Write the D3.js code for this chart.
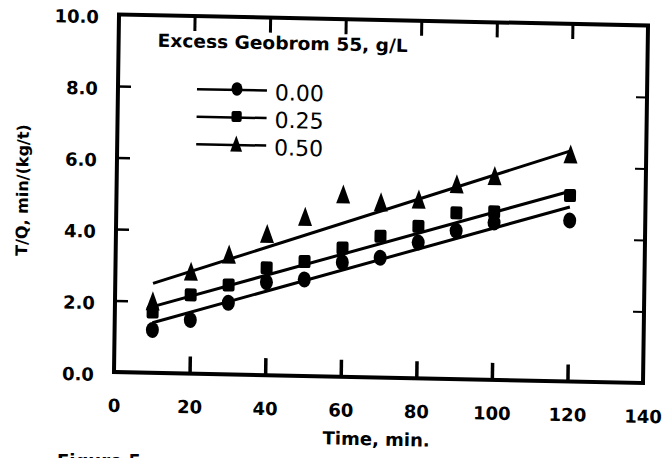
<!DOCTYPE html>
<html>
<head>
<meta charset="utf-8">
<script src="https://cdn.jsdelivr.net/npm/d3@7"></script>
<style>
body { margin: 0; background: #fff; }
svg { display: block; }
</style>
</head>
<body>
<svg width="667" height="458"></svg>
<script>
(function() {

// values
var times = [10, 20, 30, 40, 50, 60, 70, 80, 90, 100, 120];
var geobrom = ["0.00", "0.25", "0.50"];
var ratio000 = [1.2, 1.5, 2.0, 2.6, 2.7, 3.2, 3.35, 3.8, 4.15, 4.4, 4.5];
var ratio025 = [1.7, 2.2, 2.5, 3.0, 3.2, 3.6, 3.95, 4.25, 4.65, 4.7, 5.2];
var ratio050 = [2.0, 2.85, 3.35, 3.95, 4.45, 5.1, 4.9, 5.0, 5.45, 5.7, 6.35];
// fitted straight lines, value at start and end time
var fitTimes = [10, 120];
var fit000 = [1.4, 4.88];
var fit025 = [1.85, 5.32];
var fit050 = [2.5, 6.45];
var xTicks = [0, 20, 40, 60, 80, 100, 120, 140];
var yTicks = [0, 2, 4, 6, 8, 10];

var series = [
    {name: geobrom[0], values: ratio000, fit: fit000, shape: "circle"},
    {name: geobrom[1], values: ratio025, fit: fit025, shape: "square"},
    {name: geobrom[2], values: ratio050, fit: fit050, shape: "triangle"}
];

var svg = d3.select("svg");
var font = "'DejaVu Sans', Arial, sans-serif";

var x = d3.scaleLinear().domain([0, 140]).range([114, 643]);
var y = d3.scaleLinear().domain([0, 10]).range([372, 14.5]);

// the scan is a little skewed, so the whole figure is too
var chart = svg.append("g")
    .attr("transform", "matrix(1,0.0208,-0.014,1,5.21,-2.37)");

// frame
chart.append("rect")
    .attr("x", x(0)).attr("y", y(10))
    .attr("width", x(140) - x(0)).attr("height", y(0) - y(10))
    .attr("fill", "none").attr("stroke", "#000").attr("stroke-width", 4);

// inward ticks on all four sides
var inner = xTicks.slice(1, -1), innerY = yTicks.slice(1, -1);
function tickStyle(g, w) {
    g.select(".domain").remove();
    g.selectAll("text").remove();
    g.selectAll("line").attr("stroke", "#000").attr("stroke-width", w);
}
chart.append("g").attr("transform", "translate(0," + y(0) + ")")
    .call(d3.axisTop(x).tickValues(inner).tickSize(17))
    .call(tickStyle, 3.5);
chart.append("g").attr("transform", "translate(0," + y(10) + ")")
    .call(d3.axisBottom(x).tickValues(inner).tickSize(15))
    .call(tickStyle, 3);
chart.append("g").attr("transform", "translate(" + x(0) + ",0)")
    .call(d3.axisRight(y).tickValues(innerY).tickSize(13))
    .call(tickStyle, 2.5);
chart.append("g").attr("transform", "translate(" + x(140) + ",0)")
    .call(d3.axisLeft(y).tickValues(innerY).tickSize(11))
    .call(tickStyle, 2);

// tick labels
function labelStyle(g) {
    g.select(".domain").remove();
    g.selectAll("line").remove();
    g.selectAll("text")
        .attr("fill", "#000")
        .style("font-family", font)
        .style("font-weight", "bold")
        .style("font-size", "18px");
}
chart.append("g").attr("transform", "translate(0," + y(0) + ")")
    .call(d3.axisBottom(x).tickValues(xTicks).tickSize(0).tickPadding(27).tickFormat(d3.format("d")))
    .call(labelStyle);
chart.append("g").attr("transform", "translate(" + x(0) + ",0)")
    .call(d3.axisLeft(y).tickValues(yTicks).tickSize(0).tickPadding(20).tickFormat(d3.format(".1f")))
    .call(labelStyle)
    .selectAll("text").attr("dy", "0.48em");

// axis titles
chart.append("text")
    .attr("x", 377).attr("y", 440)
    .attr("text-anchor", "middle")
    .style("font-family", font).style("font-weight", "bold").style("font-size", "18px")
    .text("Time, min.");

chart.append("text")
    .attr("transform", "translate(20,192) rotate(-90)")
    .attr("text-anchor", "middle")
    .attr("dominant-baseline", "central")
    .style("font-family", font).style("font-weight", "bold").style("font-size", "16px")
    .text("T/Q, min/(kg/t)");

// markers
function marker(sel, shape, s) {
    if (shape == "circle") {
        sel.append("ellipse").attr("rx", 6.5 * s).attr("ry", 8 * s);
    } else if (shape == "square") {
        sel.append("rect").attr("x", -6 * s).attr("y", -6.5 * s)
            .attr("width", 12 * s).attr("height", 13 * s).attr("rx", 2);
    } else {
        sel.append("path").attr("d", "M0," + (-10 * s) + "L" + (7 * s) + "," + (9 * s) + "L" + (-7 * s) + "," + (9 * s) + "Z");
    }
}

// fitted lines
var line = d3.line()
    .x(function(d, i) { return x(fitTimes[i]); })
    .y(function(d) { return y(d); });

chart.append("g").selectAll("path")
    .data(series)
    .enter()
    .append("path")
    .attr("d", function(d) { return line(d.fit); })
    .attr("fill", "none")
    .attr("stroke", "#000")
    .attr("stroke-width", 3);

// points
series.forEach(function(s) {
    var pts = chart.append("g").attr("fill", "#000")
        .selectAll("g")
        .data(s.values)
        .enter()
        .append("g")
        .attr("transform", function(d, i) { return "translate(" + x(times[i]) + "," + y(d) + ")"; });
    pts.each(function() { marker(d3.select(this), s.shape, 1); });
});

// legend
var legend = chart.append("g").attr("transform", "translate(153,0)");
legend.append("text")
    .attr("x", 0).attr("y", 46)
    .attr("textLength", 250).attr("lengthAdjust", "spacingAndGlyphs")
    .style("font-family", font).style("font-weight", "bold").style("font-size", "18px")
    .text("Excess Geobrom 55, g/L");

var item = legend.selectAll(".item")
    .data(series)
    .enter()
    .append("g")
    .attr("class", "item")
    .attr("transform", function(d, i) { return "translate(0," + (87.5 + i * 27.5) + ")"; });

item.append("line")
    .attr("x1", 40).attr("x2", 110)
    .attr("stroke", "#000").attr("stroke-width", 2.5);
item.append("g")
    .attr("fill", "#000")
    .attr("transform", "translate(80,-1)")
    .each(function(d) { marker(d3.select(this), d.shape, 0.85); });
item.append("text")
    .attr("x", 118).attr("y", 2)
    .attr("dominant-baseline", "central")
    .style("font-family", font).style("font-size", "22px")
    .text(function(d) { return d.name; });

// cut-off caption under the figure
svg.append("text")
    .attr("x", 57).attr("y", 467)
    .style("font-family", font).style("font-weight", "bold").style("font-size", "18px")
    .text("Figure 5.");

})();
</script>
</body>
</html>
